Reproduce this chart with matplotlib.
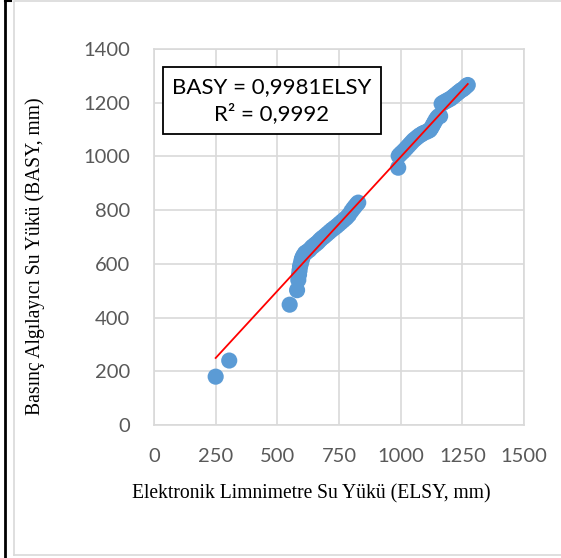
import matplotlib.pyplot as plt
import numpy as np
from matplotlib.lines import Line2D

# ELSY (x) and BASY (y)
elsy = [250, 305, 550, 580,
        585, 588, 590, 592, 595, 598, 600, 605, 612, 620, 630, 640, 648, 656, 664, 672,
        680, 690, 700, 710, 720, 730, 740, 750, 760, 770, 780, 790, 800, 808, 815, 822, 828,
        990, 992, 998, 1005, 1012, 1020, 1028, 1036, 1044, 1052, 1060, 1068, 1076, 1084, 1090,
        1100, 1110, 1118, 1124, 1130, 1136, 1142, 1148, 1154, 1160,
        1166, 1172, 1180, 1188, 1196, 1204, 1212, 1220, 1228, 1236, 1244, 1252, 1260, 1266, 1272]
basy = [180, 240, 448, 502,
        540, 560, 575, 590, 600, 612, 620, 630, 640, 645, 652, 662, 668, 674, 680, 688,
        695, 702, 710, 718, 726, 733, 740, 748, 756, 764, 772, 782, 796, 806, 814, 822, 828,
        958, 1002, 1008, 1014, 1020, 1028, 1036, 1044, 1052, 1060, 1066, 1072, 1078, 1082, 1086,
        1090, 1094, 1098, 1106, 1116, 1126, 1136, 1144, 1150, 1150,
        1196, 1200, 1204, 1208, 1212, 1216, 1222, 1228, 1234, 1240, 1246, 1250, 1256, 1262, 1266]
slope = 0.9981
r2 = 0.9992

xticks = [0, 250, 500, 750, 1000, 1250, 1500]
yticks = [0, 200, 400, 600, 800, 1000, 1200, 1400]

fig = plt.figure(figsize=(5.61, 5.58), dpi=100)
ax = fig.add_axes([154 / 561, 1 - 425 / 558, 370 / 561, 376 / 558])

ax.grid(color='#d9d9d9', linewidth=1.2)
ax.set_axisbelow(True)
ax.scatter(elsy, basy, s=135, color='#5b9bd5', edgecolors='none', zorder=2)

xs = np.array([min(elsy), max(elsy)])
ax.plot(xs, slope * xs, color='#ff0000', linewidth=1.3, zorder=3)

ax.set_xlim(0, 1500)
ax.set_ylim(0, 1400)
ax.set_xticks(xticks)
ax.set_yticks(yticks)
ax.tick_params(length=0, labelsize=14.5, labelcolor='#595959')
ax.tick_params(axis='y', pad=17)
ax.tick_params(axis='x', pad=16.5)
for lbl in ax.get_xticklabels() + ax.get_yticklabels():
    lbl.set_fontfamily('Lato')
for sp in ax.spines.values():
    sp.set_color('#d9d9d9')
    sp.set_linewidth(1.2)

ax.set_xlabel('Elektronik Limnimetre Su Yükü (ELSY, mm)', family='Liberation Serif',
              fontsize=14.1, va='center')
ax.xaxis.set_label_coords((311 - 154) / 370, (425 - 494) / 376)
ax.set_ylabel('Basınç Algılayıcı Su Yükü (BASY, mm)', family='Liberation Serif',
              fontsize=14.1, va='center')
ax.yaxis.set_label_coords((35 - 154) / 370, (425 - 256) / 376)

ax.text(0.319, 0.863, 'BASY = 0,9981ELSY\nR² = 0,9992', transform=ax.transAxes,
        ha='center', va='center', family='Lato', fontsize=16, linespacing=1.4,
        bbox=dict(boxstyle='square,pad=0.42', facecolor='white', edgecolor='black', linewidth=1.3))

# chart frame and page edge
fig.add_artist(Line2D([14 / 561, 14 / 561, 1], [1 - 555 / 558, 1 - 1 / 558, 1 - 1 / 558],
                      color='#d9d9d9', linewidth=1.2))
fig.add_artist(Line2D([14 / 561, 1], [1 - 555 / 558, 1 - 555 / 558], color='#d9d9d9', linewidth=1.2))
fig.add_artist(Line2D([5 / 561, 5 / 561], [0, 1], color='black', linewidth=2))
fig.add_artist(Line2D([5 / 561, 11 / 561], [1 - 1 / 558, 1 - 1 / 558], color='black', linewidth=1.5))

plt.savefig('out.png', dpi=100)
